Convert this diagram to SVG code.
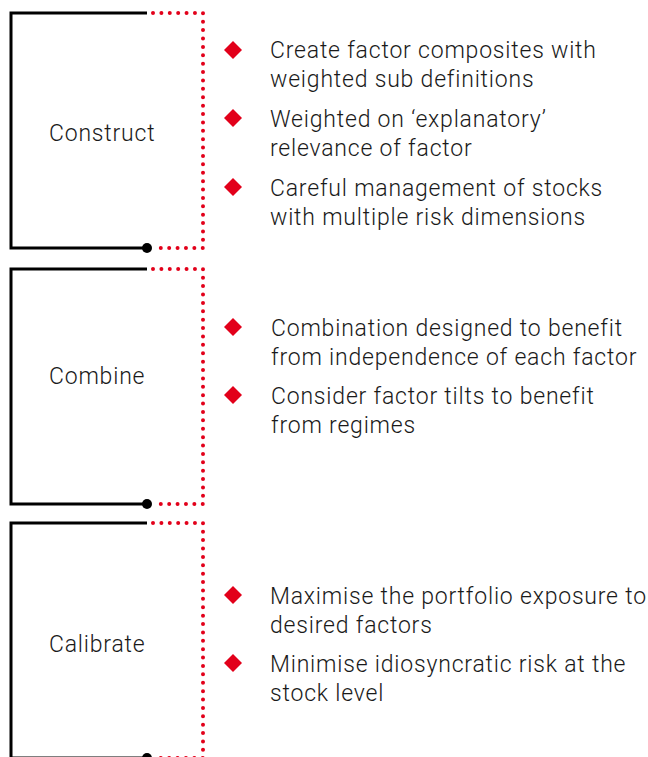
<svg xmlns="http://www.w3.org/2000/svg" width="648" height="757" viewBox="0 0 648 757">
<defs>
<style>
.frame{fill:none;stroke:#000;stroke-width:3}
.dots{fill:none;stroke:#e2001a;stroke-width:4;stroke-linecap:round;stroke-dasharray:0 8.39}
.dot{fill:#000}
.bul{fill:#e2001a}
.lbl{font-family:Roboto,"Liberation Sans",sans-serif;font-weight:300;font-size:23px;letter-spacing:0.8px;fill:#1a1a1a}
.txt{font-family:Roboto,"Liberation Sans",sans-serif;font-weight:300;font-size:23px;letter-spacing:0.8px;fill:#1a1a1a}
</style>
<polygon id="dia" points="0,-9 9,0 0,9 -9,0"/>
</defs>
<g id="connectors">
<path class="frame" d="M147,13 H11 V248 H147"/>
<path class="dots" d="M153,13 H203 V248 H153"/>
<circle class="dot" cx="147" cy="248" r="5"/>
<path class="frame" d="M147,269 H11 V504 H147"/>
<path class="dots" d="M153,269 H203 V504 H153"/>
<circle class="dot" cx="147" cy="504" r="5"/>
<path class="frame" d="M147,523 H11 V758 H147"/>
<path class="dots" d="M153,523 H203 V758 H153"/>
<circle class="dot" cx="147" cy="758" r="5"/>
</g>
<g id="construct">
<text class="lbl" x="49" y="141">Construct</text>
<use href="#dia" class="bul" x="233" y="50"/>
<text class="txt" x="270" y="58">Create factor composites with</text>
<text class="txt" x="270" y="87">weighted sub definitions</text>
<use href="#dia" class="bul" x="233" y="118"/>
<text class="txt" x="270" y="127">Weighted on ‘explanatory’</text>
<text class="txt" x="270" y="156">relevance of factor</text>
<use href="#dia" class="bul" x="233" y="187"/>
<text class="txt" x="270" y="196">Careful management of stocks</text>
<text class="txt" x="270" y="225">with multiple risk dimensions</text>
</g>
<g id="combine">
<text class="lbl" x="49" y="384">Combine</text>
<use href="#dia" class="bul" x="233" y="327"/>
<text class="txt" x="271" y="336">Combination designed to benefit</text>
<text class="txt" x="271" y="365">from independence of each factor</text>
<use href="#dia" class="bul" x="233" y="395"/>
<text class="txt" x="271" y="404">Consider factor tilts to benefit</text>
<text class="txt" x="271" y="433">from regimes</text>
</g>
<g id="calibrate">
<text class="lbl" x="49" y="652">Calibrate</text>
<use href="#dia" class="bul" x="233" y="595"/>
<text class="txt" x="270" y="604">Maximise the portfolio exposure to</text>
<text class="txt" x="270" y="633">desired factors</text>
<use href="#dia" class="bul" x="233" y="663"/>
<text class="txt" x="270" y="672">Minimise idiosyncratic risk at the</text>
<text class="txt" x="270" y="701">stock level</text>
</g>
</svg>
